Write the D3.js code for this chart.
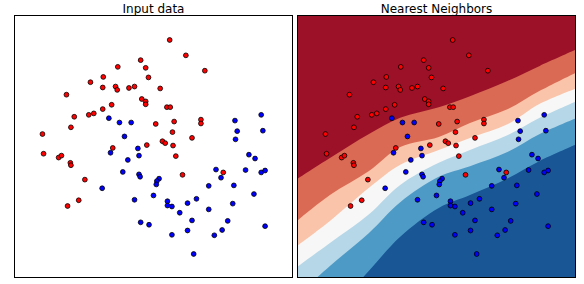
<!DOCTYPE html>
<html>
<head>
<meta charset="utf-8">
<script src="https://cdn.jsdelivr.net/npm/d3@7"></script>
<style>
	body { margin: 0; background: #fff; }
	text { font-family: "DejaVu Sans", sans-serif; }
</style>
</head>
<body>
<div id="chart"></div>
<script>
// points of the two classes, [x, y] in feature units
var redPoints = [
	[0.49,2.46],[0.78,2.14],[-0.03,2.04],[-0.44,1.90],[0.06,1.88],[1.12,1.82],[0.11,1.68],[-0.70,1.69],
	[-0.93,1.58],[-0.71,1.47],[-0.48,1.49],[-0.45,1.42],[-0.24,1.46],[-0.14,1.49],[0.32,1.45],[-1.36,1.32],
	[-0.01,1.23],[0.06,1.18],[0.06,1.12],[-0.55,1.11],[0.44,1.06],[0.50,1.06],[-0.71,1.02],[-0.87,0.93],
	[-0.96,0.90],[-1.22,0.86],[1.05,0.80],[1.05,0.72],[0.57,0.76],[0.24,0.71],[-1.28,0.64],[-1.79,0.50],
	[0.54,0.54],[0.89,0.42],[0.36,0.35],[0.41,0.31],[0.08,0.27],[0.55,0.26],[-0.53,0.21],[-1.77,0.09],
	[-1.50,0.01],[-1.45,0.05],[-1.29,-0.10],[-1.28,-0.15],[0.60,0.04],[0.72,-0.35],[1.45,-0.30],[-1.03,-0.45],
	[-1.14,-0.88],[-1.34,-1.00]
];

var bluePoints = [
	[-0.60,0.83],[1.66,0.78],[2.13,0.90],[-0.41,0.74],[-0.20,0.74],[1.70,0.56],[2.16,0.57],[-0.32,0.45],
	[1.67,0.39],[-0.08,0.20],[-0.57,0.11],[-0.06,0.05],[-0.26,-0.04],[1.91,0.07],[2.02,-0.01],[-0.35,-0.29],
	[-0.06,-0.34],[-0.04,-0.39],[1.32,-0.24],[1.85,-0.25],[2.13,-0.30],[2.20,-0.26],[1.41,-0.41],[0.30,-0.43],
	[0.26,-0.48],[0.25,-0.55],[1.19,-0.58],[1.64,-0.57],[-0.72,-0.63],[0.20,-0.78],[2.00,-0.75],[-0.14,-0.87],
	[0.45,-0.90],[0.97,-0.85],[0.81,-0.94],[1.62,-0.95],[0.45,-0.99],[0.53,-1.01],[1.19,-1.07],[0.67,-1.14],
	[0.89,-1.30],[1.53,-1.31],[-0.03,-1.34],[0.12,-1.39],[0.81,-1.51],[1.43,-1.50],[0.53,-1.60],[1.29,-1.61],
	[2.20,-1.42],[0.92,-2.00]
];

// decision surface: x positions and the y of each contour level boundary
var levelX = [-2.30, -1.71, -1.01, -0.45, 0.24, 0.80, 1.48, 2.05, 2.72];
var level1 = [-0.44, 0.00, 0.50, 0.84, 1.06, 1.29, 1.61, 1.92, 2.27];
var level2 = [-1.31, -0.77, -0.27, 0.23, 0.44, 0.73, 1.02, 1.40, 1.79];
var level3 = [-1.83, -1.31, -0.62, -0.14, 0.17, 0.42, 0.71, 1.13, 1.46];
var level4 = [-2.27, -1.77, -1.17, -0.56, -0.10, 0.17, 0.48, 0.84, 1.19];
var level5 = [-2.87, -2.25, -1.56, -0.92, -0.39, -0.17, 0.13, 0.50, 0.84];
var level6 = [-4.00, -3.25, -2.35, -1.64, -1.04, -0.77, -0.42, -0.06, 0.29];

var titles = ["Input data", "Nearest Neighbors"];
var xDomain = [-2.3, 2.7];
var yDomain = [-2.5, 2.96];

var bandColors = ["#9c1128", "#da6a54", "#f9c4a9", "#f7f7f7", "#b6d7e8", "#4e9ac7", "#195696"];

var W = 584, H = 284;
var plotTop = 16, plotBottom = 278;
var panels = [{x0: 14, x1: 293}, {x0: 297, x1: 576}];

var svg = d3.select("#chart").append("svg")
	.attr("width", W)
	.attr("height", H);

function drawPanel(p, i)
{
	var xS = d3.scaleLinear().domain(xDomain).range([p.x0, p.x1]);
	var yS = d3.scaleLinear().domain(yDomain).range([plotBottom, plotTop]);
	var g = svg.append("g");
	var clipid = "clip" + i;

	g.append("clipPath")
		.attr("id", clipid)
		.append("rect")
			.attr("x", p.x0)
			.attr("y", plotTop)
			.attr("width", p.x1 - p.x0)
			.attr("height", plotBottom - plotTop);

	if(i == 1)
	{
		var levels = [level1, level2, level3, level4, level5, level6];
		var area = d3.area()
			.curve(d3.curveCatmullRom)
			.x(function(d) { return xS(d.x); })
			.y0(function(d) { return yS(d.y); })
			.y1(plotBottom + 80);

		g.append("rect")
			.attr("x", p.x0)
			.attr("y", plotTop)
			.attr("width", p.x1 - p.x0)
			.attr("height", plotBottom - plotTop)
			.attr("fill", bandColors[0]);

		g.selectAll(".band")
			.data(levels)
			.enter().append("path")
				.attr("class", "band")
				.attr("clip-path", "url(#" + clipid + ")")
				.attr("fill", function(d, k) { return bandColors[k + 1]; })
				.attr("d", function(d) {
					return area(levelX.map(function(x, j) { return {x: x, y: d[j]}; }));
				});
	}

	var pts = [];
	redPoints.forEach(function(d) { pts.push({x: d[0], y: d[1], c: "#ff0000"}); });
	bluePoints.forEach(function(d) { pts.push({x: d[0], y: d[1], c: "#0000ff"}); });

	g.selectAll(".point")
		.data(pts)
		.enter().append("circle")
			.attr("class", "point")
			.attr("cx", function(d) { return xS(d.x); })
			.attr("cy", function(d) { return yS(d.y); })
			.attr("r", 2.4)
			.attr("fill", function(d) { return d.c; })
			.attr("stroke", "#000")
			.attr("stroke-width", 0.8);

	g.append("rect")
		.attr("x", p.x0 + 0.5)
		.attr("y", plotTop - 0.5)
		.attr("width", p.x1 - p.x0 - 1)
		.attr("height", plotBottom - plotTop)
		.attr("fill", "none")
		.attr("stroke", "#000")
		.attr("stroke-width", 1);

	g.append("text")
		.attr("x", (p.x0 + p.x1) / 2)
		.attr("y", 12.5)
		.attr("text-anchor", "middle")
		.attr("font-size", "12px")
		.text(titles[i]);
}

panels.forEach(drawPanel);
</script>
</body>
</html>
